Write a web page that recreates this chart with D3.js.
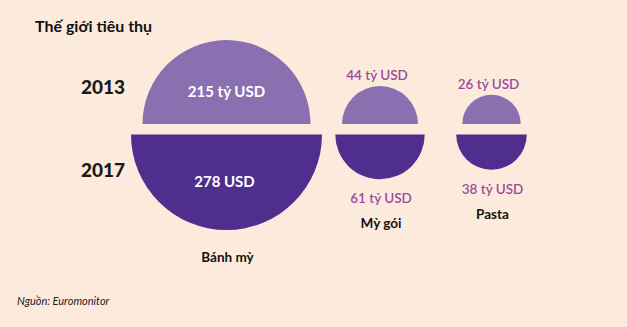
<!DOCTYPE html>
<html>
<head>
<meta charset="utf-8">
<script src="https://cdn.jsdelivr.net/npm/d3@7"></script>
<style>
  html, body { margin: 0; padding: 0; background: #fcebdc; }
  svg { display: block; font-family: Lato, "Open Sans", sans-serif; }
</style>
</head>
<body>
<svg width="627" height="327"></svg>
<script>
// data
const categories = ["Bánh mỳ", "Mỳ gói", "Pasta"];
const values2013 = [215, 44, 26];
const values2017 = [278, 61, 38];
const labels2013 = ["215 tỷ USD", "44 tỷ USD", "26 tỷ USD"];
const labels2017 = ["278 USD", "61 tỷ USD", "38 tỷ USD"];
const years = ["2013", "2017"];

const W = 627, H = 327;
const svg = d3.select("svg").attr("viewBox", `0 0 ${W} ${H}`);

const colors = { top: "#8a70b1", bottom: "#4f2e8e", label: "#9a4c9c" };

// area-proportional radius
const r = d3.scaleSqrt().domain([0, 278]).range([0, 95.5]);
const x = d3.scaleOrdinal().domain(categories).range([226.5, 380, 491.5]);
const yTopBase = 124;   // baseline of upper halves
const yBotBase = 134.5; // top edge of lower halves

const rows = categories.map((c, i) => ({
  cat: c, v13: values2013[i], v17: values2017[i],
  l13: labels2013[i], l17: labels2017[i], big: i === 0
}));

const upper = d3.arc().startAngle(-Math.PI / 2).endAngle(Math.PI / 2).innerRadius(0);
const lower = d3.arc().startAngle(Math.PI / 2).endAngle(Math.PI * 1.5).innerRadius(0);

const g = svg.append("g");

g.selectAll(".top")
  .data(rows)
  .enter().append("path")
  .attr("class", "top")
  .attr("transform", d => `translate(${x(d.cat)},${yTopBase})`)
  .attr("d", d => upper({ outerRadius: r(d.v13) }))
  .attr("fill", colors.top);

g.selectAll(".bot")
  .data(rows)
  .enter().append("path")
  .attr("class", "bot")
  .attr("transform", d => `translate(${x(d.cat)},${yBotBase})`)
  .attr("d", d => lower({ outerRadius: r(d.v17) }))
  .attr("fill", colors.bottom);

// value labels: inside for the big one, outside for the small ones
g.selectAll(".l13")
  .data(rows)
  .enter().append("text")
  .attr("class", "l13")
  .attr("x", d => x(d.cat) + (d.big ? 0 : -3))
  .attr("y", d => d.big ? yTopBase - 27 : yTopBase - r(d.v13) - 6)
  .attr("text-anchor", "middle")
  .attr("font-size", d => d.big ? 15 : 13.5)
  .attr("font-weight", d => d.big ? 700 : 600)
  .attr("fill", d => d.big ? "#fff" : colors.label)
  .text(d => d.l13);

g.selectAll(".l17")
  .data(rows)
  .enter().append("text")
  .attr("class", "l17")
  .attr("x", d => x(d.cat) + (d.big ? -2 : 1))
  .attr("y", d => d.big ? yBotBase + 52 : yBotBase + r(d.v17) + 24)
  .attr("text-anchor", "middle")
  .attr("font-size", d => d.big ? 15 : 13.5)
  .attr("font-weight", d => d.big ? 700 : 600)
  .attr("fill", d => d.big ? "#fff" : colors.label)
  .text(d => d.l17);

g.selectAll(".cat")
  .data(rows)
  .enter().append("text")
  .attr("class", "cat")
  .attr("x", d => x(d.cat) + 1)
  .attr("y", d => d.big ? yBotBase + r(d.v17) + 32 : yBotBase + r(d.v17) + 49)
  .attr("text-anchor", "middle")
  .attr("font-size", 13.5)
  .attr("font-weight", 700)
  .attr("fill", "#111")
  .text(d => d.cat);

// year labels
svg.selectAll(".year")
  .data(years)
  .enter().append("text")
  .attr("class", "year")
  .attr("x", 81)
  .attr("y", (d, i) => i === 0 ? 94 : 177)
  .attr("font-size", 19)
  .attr("font-weight", 900)
  .attr("fill", "#1a1a1a")
  .text(d => d);

svg.append("text")
  .attr("x", 35).attr("y", 32)
  .attr("font-size", 16).attr("font-weight", 700)
  .attr("fill", "#111")
  .text("Thế giới tiêu thụ");

svg.append("text")
  .attr("x", 17).attr("y", 305)
  .attr("font-size", 11).attr("font-style", "italic")
  .attr("fill", "#222")
  .text("Nguồn: Euromonitor");
</script>
</body>
</html>
